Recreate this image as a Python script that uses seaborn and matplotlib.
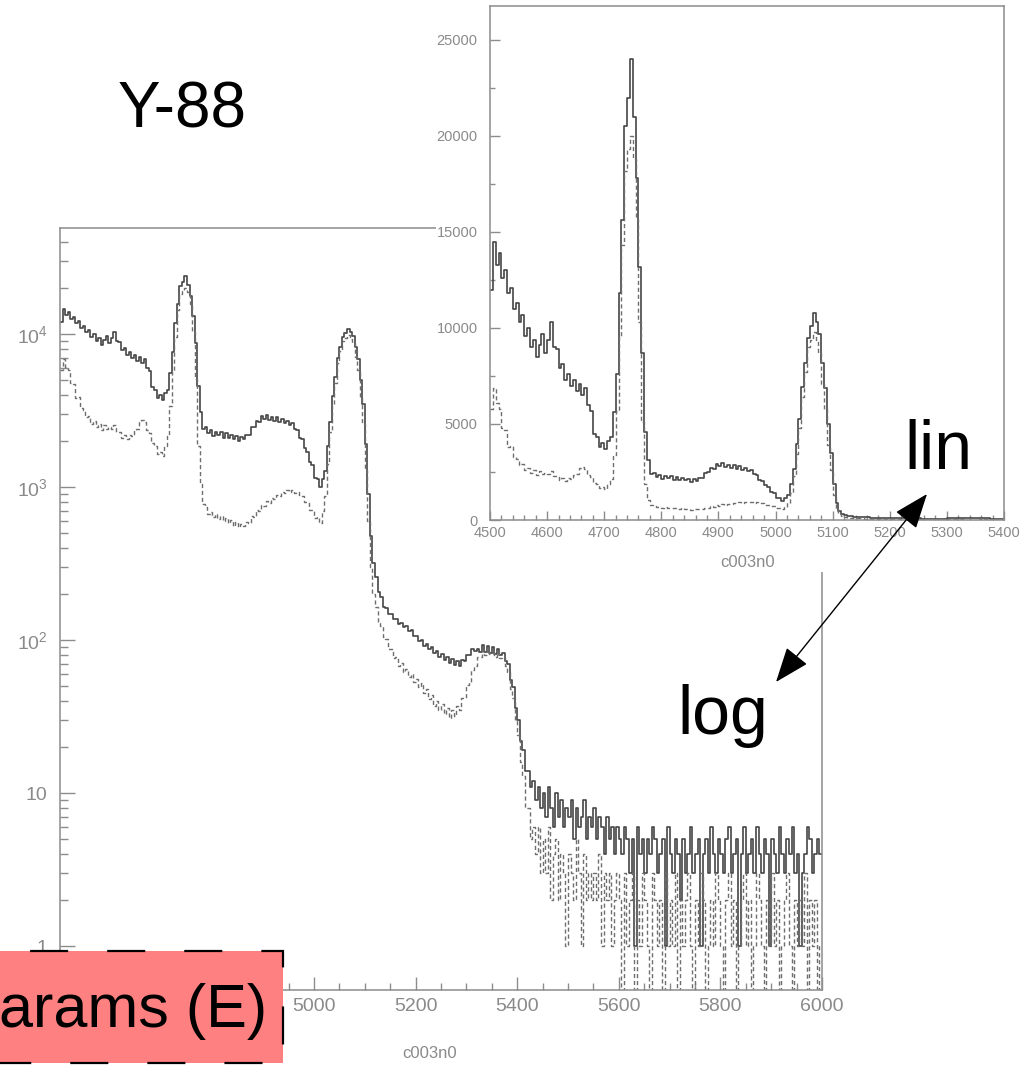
import numpy as np
import pandas as pd
import matplotlib
matplotlib.use("Agg")
import matplotlib.pyplot as plt
import seaborn as sns
from matplotlib.ticker import MultipleLocator, LogLocator, FuncFormatter, NullFormatter, FixedFormatter
from matplotlib.patches import Rectangle

# ---------------- data (5-channel bins starting at 4500) ----------------
BIN_START = 4500
BIN_WIDTH = 5

solid_counts = [
    # 4500-4595
    12000, 14500, 13300, 13900, 12600, 13000, 11800, 12100, 11000, 11300,
    10300, 10700, 9600, 10000, 9000, 9400, 8500, 9100, 9700, 8700,
    # 4600-4695
    9400, 10300, 9000, 8900, 7900, 8100, 7300, 7600, 7000, 7300,
    6700, 7100, 6500, 6900, 6000, 5700, 4500, 4300, 3800, 4000,
    # 4700-4795
    3700, 4100, 4300, 5600, 7600, 11800, 15600, 20500, 22000, 24000,
    21000, 17800, 13200, 8700, 4600, 3100, 2400, 2450, 2250, 2350,
    # 4800-4895
    2150, 2300, 2200, 2280, 2100, 2250, 2080, 2180, 2060, 2150,
    2000, 2120, 2050, 2200, 2180, 2450, 2480, 2700, 2650, 2900,
    # 4900-4995
    2800, 2950, 2750, 2850, 2700, 2850, 2650, 2800, 2620, 2720,
    2550, 2620, 2400, 2350, 2100, 2050, 1800, 1700, 1450, 1400,
    # 5000-5095
    1150, 1130, 1000, 1120, 1280, 1850, 2650, 3950, 5250, 6950,
    8200, 9500, 10100, 10800, 10300, 9700, 8200, 6900, 5000, 3500,
    # 5100-5195
    1900, 900, 480, 320, 260, 205, 190, 165, 163, 147,
    148, 137, 138, 127, 130, 121, 123, 114, 116, 107,
    # 5200-5295
    107, 99, 100, 92, 94, 87, 90, 82, 85, 78,
    81, 74, 78, 71, 75, 69, 73, 68, 74, 73,
    # 5300-5395
    80, 80, 87, 85, 87, 84, 93, 83, 91, 82,
    90, 81, 88, 80, 82, 73, 70, 55, 49, 36,
    # 5400-5495
    30, 22, 19, 14, 14, 11, 12, 9, 11, 8,
    10, 7, 11, 8, 6, 10, 7, 9, 6, 8,
    # 5500-5595
    7, 9, 5, 8, 6, 7, 9, 5, 7, 6,
    8, 5, 7, 6, 4, 7, 5, 6, 4, 6,
    # 5600-5695
    5, 4, 6, 5, 3, 5, 1, 6, 4, 5,
    3, 5, 4, 6, 5, 3, 4, 5, 1, 6,
    # 5700-5795
    4, 3, 5, 4, 2, 5, 3, 4, 6, 3,
    4, 5, 1, 4, 5, 3, 6, 4, 3, 5,
    # 5800-5895
    4, 3, 5, 6, 3, 4, 5, 1, 4, 6,
    3, 4, 5, 3, 6, 4, 3, 5, 4, 1,
    # 5900-5995
    5, 4, 3, 6, 4, 3, 5, 4, 6, 3,
    4, 1, 3, 4, 6, 5, 3, 4, 5, 4,
]

dashed_counts = [
    # 4500-4595
    5800, 6900, 6100, 5800, 4800, 4700, 3800, 3850, 3300, 3200,
    2850, 2900, 2600, 2700, 2450, 2600, 2350, 2550, 2400, 2450,
    # 4600-4695
    2400, 2550, 2300, 2300, 2100, 2200, 2050, 2200, 2150, 2350,
    2400, 2700, 2750, 2650, 2350, 2250, 1950, 1850, 1650, 1700,
    # 4700-4795
    1600, 1850, 2150, 3400, 5700, 9600, 14300, 18200, 19300, 20000,
    18800, 15700, 10300, 5100, 1850, 1050, 780, 740, 670, 690,
    # 4800-4895
    640, 670, 620, 650, 600, 630, 580, 610, 560, 590,
    545, 575, 555, 595, 585, 645, 640, 705, 700, 765,
    # 4900-4995
    750, 810, 790, 850, 830, 890, 870, 930, 910, 960,
    930, 960, 910, 930, 870, 880, 800, 800, 710, 710,
    # 5000-5095
    630, 640, 580, 700, 880, 1420, 2280, 3420, 4780, 6420,
    7700, 9000, 9400, 9800, 9300, 8700, 7100, 5800, 3900, 2600,
    # 5100-5195
    1300, 600, 300, 200, 165, 130, 124, 104, 101, 87,
    87, 76, 78, 68, 71, 62, 65, 57, 60, 53,
    # 5200-5295
    56, 49, 52, 45, 48, 41, 44, 37, 40, 35,
    38, 33, 36, 31, 35, 32, 37, 35, 42, 42,
    # 5300-5395
    51, 53, 64, 68, 77, 78, 86, 80, 87, 81,
    86, 78, 84, 76, 77, 68, 62, 48, 42, 30,
    # 5400-5495
    24, 16, 13, 8, 8, 5, 6, 4, 6, 3,
    5, 3, 6, 2, 4, 5, 2, 4, 3, 1,
    # 5500-5595
    4, 3, 2, 5, 3, 1, 4, 2, 3, 2,
    3, 2, 4, 1, 3, 2, 3, 1, 2, 3,
    # 5600-5695
    2, 0, 3, 1, 2, 3, 0, 2, 1, 3,
    2, 1, 0, 3, 2, 1, 2, 0, 3, 1,
    # 5700-5795
    2, 1, 3, 0, 2, 1, 2, 3, 1, 0,
    2, 1, 3, 2, 0, 1, 2, 1, 3, 2,
    # 5800-5895
    1, 0, 2, 3, 1, 2, 0, 1, 2, 3,
    1, 2, 0, 1, 3, 2, 1, 0, 2, 1,
    # 5900-5995
    3, 1, 2, 0, 1, 2, 3, 1, 0, 2,
    1, 2, 1, 3, 0, 2, 1, 2, 0, 1,
]

main_xticks = [4600, 4800, 5000, 5200, 5400, 5600, 5800, 6000]
# 4600 and 4800 labels are hidden behind the red box in the reference
main_xticklabels = ["", "", "5000", "5200", "5400", "5600", "5800", "6000"]
inset_xticks = [4500, 4600, 4700, 4800, 4900, 5000, 5100, 5200, 5300, 5400]
inset_yticks = [0, 5000, 10000, 15000, 20000, 25000]
x_title = "c003n0"

n_bins = len(solid_counts)
edges = [BIN_START + BIN_WIDTH * i for i in range(n_bins + 1)]
centers = [e + BIN_WIDTH / 2 for e in edges[:-1]]
df = pd.DataFrame({"channel": centers, "solid": solid_counts, "dashed": dashed_counts})

# ---------------- style ----------------
sns.set_theme(style="white")
plt.rcParams["font.family"] = ["Liberation Sans", "DejaVu Sans"]
plt.rcParams["mathtext.default"] = "regular"
plt.rcParams["lines.scale_dashes"] = False

SPINE = "#8c8c8c"
TICKTXT = "#8a8a8a"
SOLID_C = "#464646"
DASH_C = "#6e6e6e"

W, H = 1024, 1067
fig = plt.figure(figsize=(W / 100, H / 100), dpi=100)
fig.patch.set_facecolor("white")


def fx(px):
    return px / W


def fy(py):
    return 1 - py / H


def draw_hists(a):
    sns.histplot(data=df, x="channel", weights="solid", bins=edges, element="step",
                 fill=False, color=SOLID_C, linewidth=1.2, ax=a)
    sns.histplot(data=df, x="channel", weights="dashed", bins=edges, element="step",
                 fill=False, color=DASH_C, linewidth=1.0, linestyle=(0, (3, 2)), ax=a)


def style_spines(a):
    for s in a.spines.values():
        s.set_visible(True)
        s.set_color(SPINE)
        s.set_linewidth(1.1)


# ---------------- main (log) axes ----------------
ax = fig.add_axes([fx(60), fy(990), fx(822) - fx(60), fy(228) - fy(990)], zorder=1)
draw_hists(ax)
ax.set_yscale("log")
ax.set_xlim(4500, 6000)
ax.set_ylim(0.516, 49300)
style_spines(ax)
ax.set_xticks(main_xticks)
ax.set_xticklabels(main_xticklabels)
ax.xaxis.set_minor_locator(MultipleLocator(50))
ax.yaxis.set_major_locator(LogLocator(base=10, numticks=10))
ax.yaxis.set_minor_locator(LogLocator(base=10, subs=np.arange(2, 10), numticks=20))
ax.yaxis.set_minor_formatter(NullFormatter())


def log_fmt(v, pos):
    e = int(round(np.log10(v)))
    if e == 0:
        return "1"
    if e == 1:
        return "10"
    return "10$^{%d}$" % e


ax.yaxis.set_major_formatter(FuncFormatter(log_fmt))
ax.tick_params(axis="x", which="major", direction="in", length=9.4, width=1, color=SPINE,
               labelcolor=TICKTXT, labelsize=14, pad=6, bottom=True, top=False)
ax.tick_params(axis="x", which="minor", direction="in", length=5, width=1, color=SPINE,
               bottom=True, top=False)
ax.tick_params(axis="y", which="major", direction="in", length=10.8, width=1, color=SPINE,
               labelcolor=TICKTXT, labelsize=14, pad=9, left=True, right=False)
ax.tick_params(axis="y", which="minor", direction="in", length=5.8, width=1, color=SPINE,
               left=True, right=False)
ax.set_ylabel("")
ax.set_xlabel(x_title, color=TICKTXT, fontsize=12)
ax.xaxis.set_label_coords((430 - 60) / 762, -(1046 - 990) / 762)
ax.grid(False)

# white backing of the inset picture
fig.patches.append(Rectangle((fx(436), fy(572)), 1 - fx(436), 1 - fy(572),
                             transform=fig.transFigure, facecolor="white",
                             edgecolor="none", zorder=2))

# ---------------- inset (linear) axes ----------------
ax2 = fig.add_axes([fx(490), fy(520), fx(1004) - fx(490), fy(6) - fy(520)], zorder=3)
ax2.set_facecolor("white")
draw_hists(ax2)
ax2.set_xlim(4500, 5400)
ax2.set_ylim(0, 26770)
style_spines(ax2)
ax2.set_xticks(inset_xticks)
ax2.set_yticks(inset_yticks)
ax2.xaxis.set_minor_locator(MultipleLocator(20))
ax2.yaxis.set_minor_locator(MultipleLocator(2500))
ax2.tick_params(axis="x", which="major", direction="in", length=6.5, width=1, color=SPINE,
                labelcolor=TICKTXT, labelsize=10.5, pad=4, bottom=True, top=False)
ax2.tick_params(axis="x", which="minor", direction="in", length=3.6, width=1, color=SPINE,
                bottom=True, top=False)
ax2.tick_params(axis="y", which="major", direction="in", length=7, width=1, color=SPINE,
                labelcolor=TICKTXT, labelsize=10.5, pad=9, left=True, right=False)
ax2.tick_params(axis="y", which="minor", direction="in", length=3.6, width=1, color=SPINE,
                left=True, right=False)
ax2.set_ylabel("")
ax2.set_xlabel(x_title, color=TICKTXT, fontsize=12)
ax2.xaxis.set_label_coords(0.502, -(555 - 520) / 514)
ax2.grid(False)

# ---------------- annotation overlay (pixel coordinates) ----------------
ov = fig.add_axes([0, 0, 1, 1], zorder=4)
ov.set_xlim(0, W)
ov.set_ylim(H, 0)
ov.axis("off")

ov.text(182, 128, "Y-88", fontsize=46, color="black", ha="center", va="baseline")
ov.text(938, 469, "lin", fontsize=49, color="black", ha="center", va="baseline")
ov.text(723, 734, "log", fontsize=49, color="black", ha="center", va="baseline")

ov.annotate("", xy=(927, 494), xytext=(776, 682),
            arrowprops=dict(arrowstyle="<|-|>,head_length=1.1,head_width=0.42",
                            mutation_scale=20, lw=1.0, color="black",
                            shrinkA=0, shrinkB=0))

box = Rectangle((-47, 951), 330, 112, facecolor="#ff8080", edgecolor="black",
                linewidth=1.6, linestyle=(0, (27.4, 28.1)), zorder=5)
ov.add_patch(box)
ov.text(267, 1011, "arams (E)", fontsize=44, color="black", ha="right", va="center", zorder=6)

fig.savefig("out.png", dpi=100, facecolor="white")
